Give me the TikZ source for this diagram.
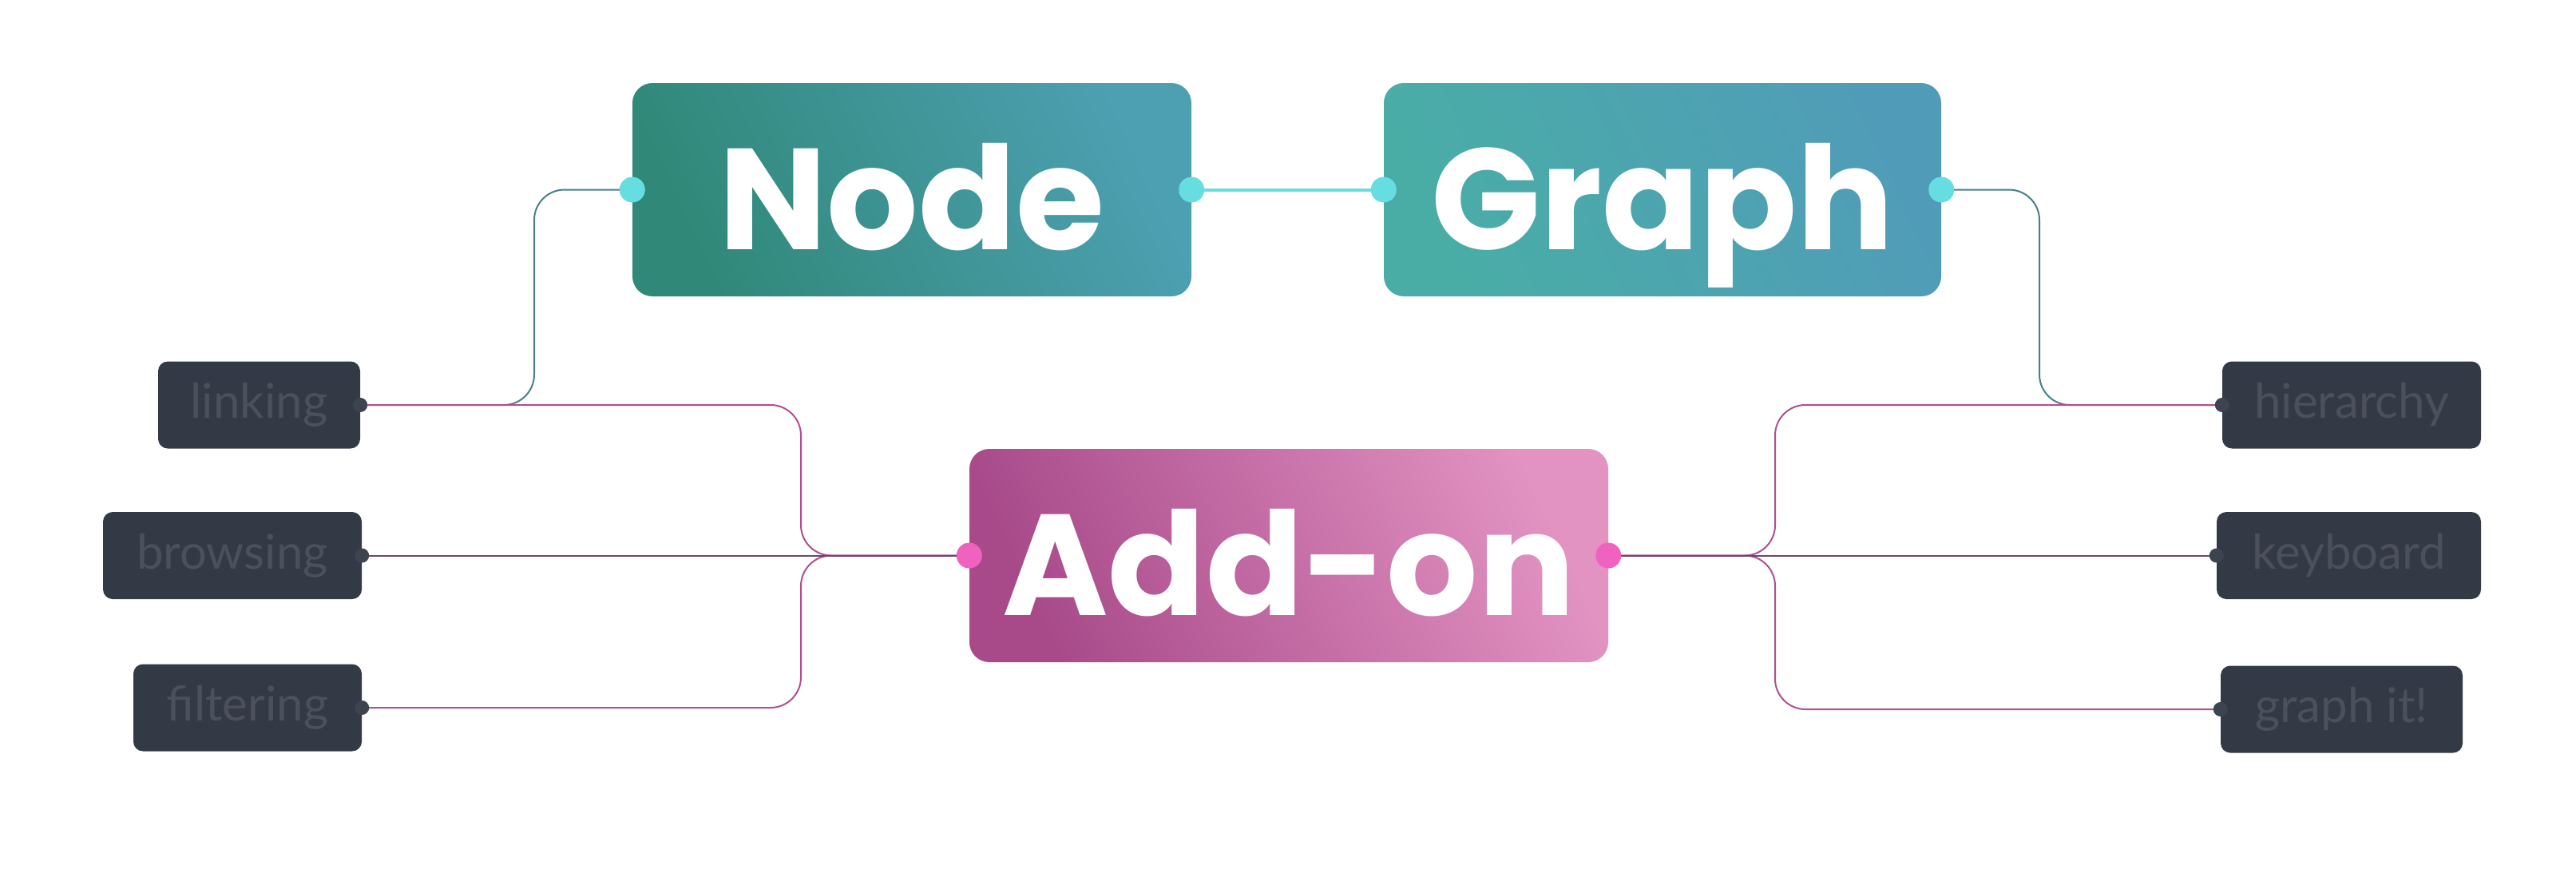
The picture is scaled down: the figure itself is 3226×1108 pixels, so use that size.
\documentclass[tikz,border=0pt]{standalone}
\usepackage{fontspec}
\newfontfamily\bigf{Poppins}[BoldFont=* Bold]
\newfontfamily\labf{Lato}
\definecolor{lab}{HTML}{343A45}
\definecolor{labt}{HTML}{4B505C}
\definecolor{cy}{HTML}{66DDE0}
\definecolor{pk}{HTML}{F062C0}
\definecolor{pl}{HTML}{B0508F}
\definecolor{dk}{HTML}{3E4350}
\definecolor{tl}{HTML}{4FA8B0}
\definecolor{nA}{HTML}{308878}
\definecolor{nB}{HTML}{4DA0B2}
\definecolor{gA}{HTML}{49ADA6}
\definecolor{gB}{HTML}{509CB8}
\definecolor{aA}{HTML}{A84A8A}
\definecolor{aB}{HTML}{E293C2}
\begin{document}
\begin{tikzpicture}[x=1pt,y=-1pt,
 big/.style={rounded corners=25pt,minimum height=267pt,text=white,font=\bigf\bfseries\fontsize{180}{180}\selectfont,inner sep=0pt,text depth=0pt,text height=150pt},
 lbl/.style={fill=lab,rounded corners=12pt,minimum height=109pt,text=labt,font=\labf\fontsize{60}{60}\selectfont,inner sep=0pt},
 dot/.style 2 args={circle,fill=#1,minimum size=#2,inner sep=0pt},
 ln/.style={line width=2pt,rounded corners=38pt}]
\useasboundingbox (0,0) rectangle (3226,1108);
% main boxes
\node[big,minimum width=700pt,bottom color=nA,top color=nB,shading angle=-65] (node) at (1142,237.5) {Node};
\node[big,minimum width=698pt,bottom color=gA,top color=gB,shading angle=-65] (graph) at (2082,237.5) {Graph};
\node[big,minimum width=800pt,bottom color=aA,top color=aB,shading angle=-65] (addon) at (1614,695.5) {Add-on};
% labels
\node[lbl,minimum width=253pt] (linking) at (324.5,507) {linking};
\node[lbl,minimum width=324pt] (browsing) at (291,695.5) {browsing};
\node[lbl,minimum width=286pt] (filtering) at (310,886) {filtering};
\node[lbl,minimum width=324pt] (hierarchy) at (2945,507) {hierarchy};
\node[lbl,minimum width=331pt] (keyboard) at (2941.5,695.5) {keyboard};
\node[lbl,minimum width=303pt] (graphit) at (2932.5,888) {graph it!};
% connectors
\draw[ln,tl!60!dk] (node.west) -- (669,237.5) -- (669,507) -- (linking.east);
\draw[ln,pl] (linking.east) -- (1003,507) -- (1003,695.5) -- (addon.west);
\draw[ln,pl] (filtering.east) -- (1003,886) -- (1003,695.5) -- (addon.west);
\draw[ln,pl!40!dk] (browsing.east) -- (addon.west);
\draw[line width=4pt,cy] (node.east) -- (graph.west);
\draw[ln,tl!60!dk] (graph.east) -- (2554,237.5) -- (2554,507) -- (hierarchy.west);
\draw[ln,pl] (addon.east) -- (2223,695.5) -- (2223,507) -- (hierarchy.west);
\draw[ln,pl] (addon.east) -- (2223,695.5) -- (2223,888) -- (graphit.west);
\draw[ln,pl!40!dk] (addon.east) -- (keyboard.west);
% dots
\foreach \p in {node.west,node.east,graph.west,graph.east}
  \node[dot={cy}{32pt}] at (\p) {};
\foreach \p in {addon.west,addon.east}
  \node[dot={pk}{32pt}] at (\p) {};
\foreach \p in {linking.east,browsing.east,filtering.east,hierarchy.west,keyboard.west,graphit.west}
  \node[dot={dk}{18pt}] at (\p) {};
\end{tikzpicture}
\end{document}
